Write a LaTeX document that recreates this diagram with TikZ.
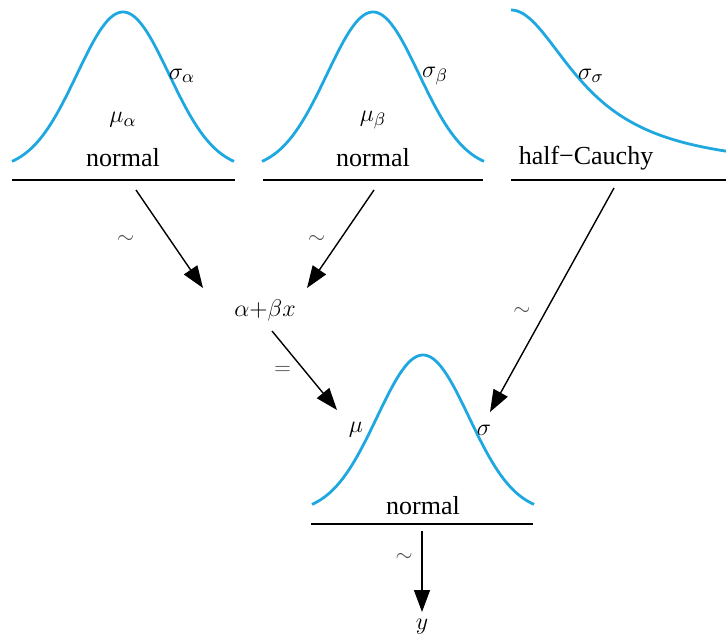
\documentclass[tikz,border=0pt]{standalone}
\usepackage{fontspec}
\setmainfont{Liberation Serif}
\usepackage{xcolor}
\definecolor{curveBlue}{HTML}{1FA8E0}
\usepackage{tikz}
\usetikzlibrary{arrows.meta, positioning}

\begin{document}
\begin{tikzpicture}[x=0.5pt, y=-0.5pt, font=\fontsize{13}{15}\selectfont,
    density/.style={curveBlue, line width=1.4pt, line join=round},
    bar/.style={black, line width=1.3pt},
    arr/.style={-{Triangle[length=11pt, width=8pt]}, line width=0.7pt},
    rel/.style={text=black!70, font=\fontsize{11}{13}\selectfont}]
    \useasboundingbox (0,0) rectangle (726,637);

    % Normal densities
    \foreach \cx/\by in {123/170, 373/170, 423/513}
        \draw[density] plot[domain=-111:111, samples=80] ({\cx+\x},{\by-158*exp(-(\x/46)^2/2)});

    % Half-Cauchy density
    \draw[density] plot[domain=0:215, samples=80] ({511+\x},{170-160/(1+(\x/78.6)^2)});

    % Bars
    \draw[bar] (12,180) -- (235,180);
    \draw[bar] (263,180) -- (483,180);
    \draw[bar] (511,180) -- (726,180);
    \draw[bar] (311,524) -- (533,524);

    % Labels
    \node (sa) at (182,76) {$\sigma_\alpha$};
    \node (ma) at (123,120) {$\mu_\alpha$};
    \node (na) at (123,158) {normal};
    \node (sb) at (435,76) {$\sigma_\beta$};
    \node (mb) at (373,120) {$\mu_\beta$};
    \node (nb) at (373,158) {normal};
    \node (ss) at (591,76) {$\sigma_\sigma$};
    \node (hc) at (586,158) {half\textminus Cauchy};
    \node (lin) at (265,310) {$\alpha{+}\beta x$};
    \node (mu) at (356,430) {$\mu$};
    \node (sg) at (484,430) {$\sigma$};
    \node (ny) at (423,506) {normal};
    \node (y) at (422,627) {$y$};

    % Arrow ends
    \coordinate (a1) at (136,190);  \coordinate (b1) at (203,288);
    \coordinate (a2) at (374,190);  \coordinate (b2) at (307,288);
    \coordinate (a3) at (272,331);  \coordinate (b3) at (337,410);
    \coordinate (a4) at (614,188);  \coordinate (b4) at (490,412);
    \coordinate (a5) at (422,531);  \coordinate (b5) at (422,612);

    % Arrows
    \draw[arr] (a1) -- (b1) node[rel, pos=0.5, left=14pt] {$\sim$};
    \draw[arr] (a2) -- (b2) node[rel, pos=0.5, left=4pt] {$\sim$};
    \draw[arr] (a3) -- (b3) node[rel, pos=0.5, left=3pt] {$=$};
    \draw[arr] (a4) -- (b4) node[rel, pos=0.55, left=4pt] {$\sim$};
    \draw[arr] (a5) -- (b5) node[rel, pos=0.33, left=1pt] {$\sim$};
\end{tikzpicture}
\end{document}
